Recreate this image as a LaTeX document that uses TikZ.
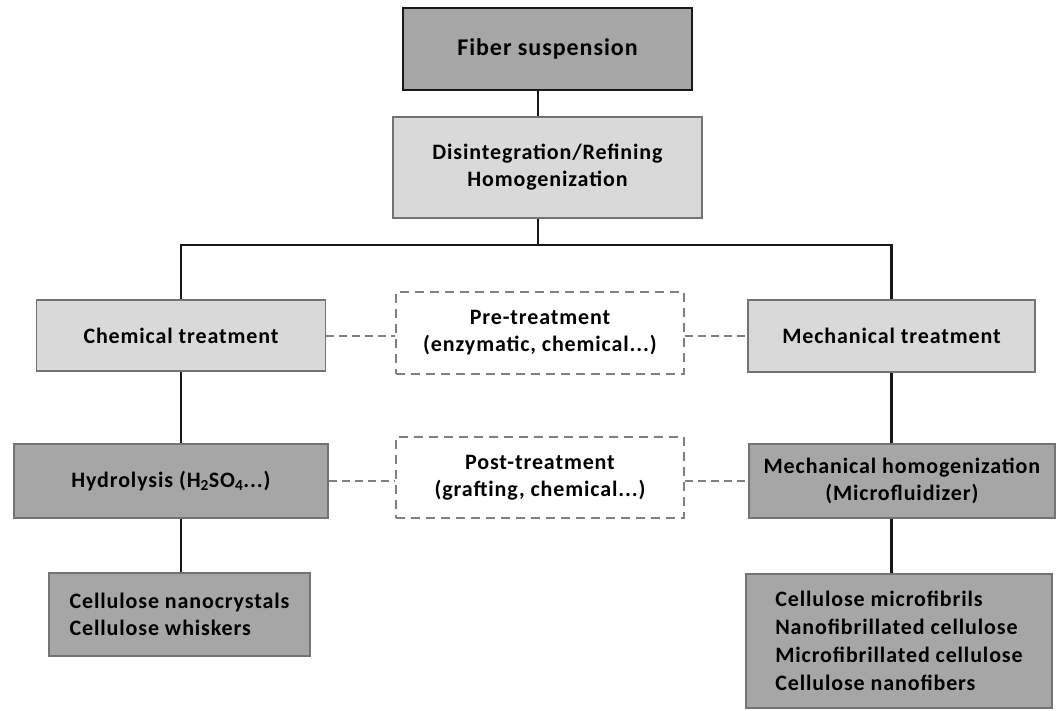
\documentclass[tikz,border=0pt]{standalone}
\usepackage{fontspec}
\setmainfont{Carlito}[LetterSpace=4]
\usetikzlibrary{calc, positioning}

\begin{document}
\begin{tikzpicture}[x=1pt, y=-1pt,
  font=\fontsize{22}{27}\selectfont\bfseries,
  darkbox/.style={draw=black!55, line width=1.8pt, fill=black!35, align=center, inner sep=0pt},
  lightbox/.style={draw=black!55, line width=1.8pt, fill=black!15, align=center, inner sep=0pt},
  dashbox/.style={draw=black!50, line width=2pt, dash pattern=on 9pt off 6pt, align=center, inner sep=0pt},
  link/.style={draw=black!90, line width=2.4pt},
  dashlink/.style={draw=black!50, line width=2pt, dash pattern=on 8pt off 5pt}]
\useasboundingbox (0,0) rectangle (1057,710);

% Top of the tree
\node[darkbox, draw=black!90, line width=2.6pt, minimum width=289pt, minimum height=82pt,
  font=\fontsize{24}{27}\selectfont\bfseries] (fiber) at (547.5,49) {Fiber suspension};
\node[lightbox, minimum width=309pt, minimum height=101pt] (disint) at (547.5,167.5) {Disintegration/Refining\\Homogenization};
\coordinate (trunk) at (538,245);

% Treatments
\node[lightbox, minimum width=289pt, minimum height=71pt] (chem) at (181,335.5) {Chemical treatment};
\node[lightbox, minimum width=287pt, minimum height=72pt] (mech) at (891.5,336) {Mechanical treatment};
\node[dashbox, minimum width=288pt, minimum height=82pt] (pre) at (540,333) {Pre-treatment\\(enzymatic, chemical...)};

% Second step
\node[darkbox, minimum width=314pt, minimum height=74pt, anchor=west] (hydro) at (13,481) {Hydrolysis (H\textsubscript{2}SO\textsubscript{4}...)};
\node[darkbox, minimum width=306pt, minimum height=74pt, anchor=west] (homog) at (748,481) {Mechanical homogenization\\(Microfluidizer)};
\node[dashbox, minimum width=288pt, minimum height=81pt] (post) at (540,477.5) {Post-treatment\\(grafting, chemical...)};

% Products
\node[darkbox, align=left, minimum width=261pt, minimum height=83pt] (crystals) at (179.5,614.5) {Cellulose nanocrystals\\Cellulose whiskers};
\node[darkbox, align=left, minimum width=306pt, minimum height=134pt,
  font=\fontsize{22}{28}\selectfont\bfseries] (fibrils) at (899,641) {Cellulose microfibrils\\Nanofibrillated cellulose\\Microfibrillated cellulose\\Cellulose nanofibers};

% Connectors
\draw[link] (fiber.south -| trunk) -- (disint.north -| trunk);
\draw[link] (disint.south -| trunk) -- (trunk);
\draw[link] (chem.north) |- (trunk) -| (mech.north);
\draw[link] (chem.south) -- (chem.south |- hydro.north);
\draw[link] (chem.south |- hydro.south) -- (crystals.north -| chem.south);
\draw[link] (mech.south) -- (mech.south |- homog.north);
\draw[link] (mech.south |- homog.south) -- (fibrils.north -| mech.south);
\draw[dashlink] (chem.east) -- (pre.west |- chem.east);
\draw[dashlink] (pre.east |- chem.east) -- (mech.west |- chem.east);
\draw[dashlink] (hydro.east) -- (post.west |- hydro.east);
\draw[dashlink] (post.east |- hydro.east) -- (homog.west);
\end{tikzpicture}
\end{document}
